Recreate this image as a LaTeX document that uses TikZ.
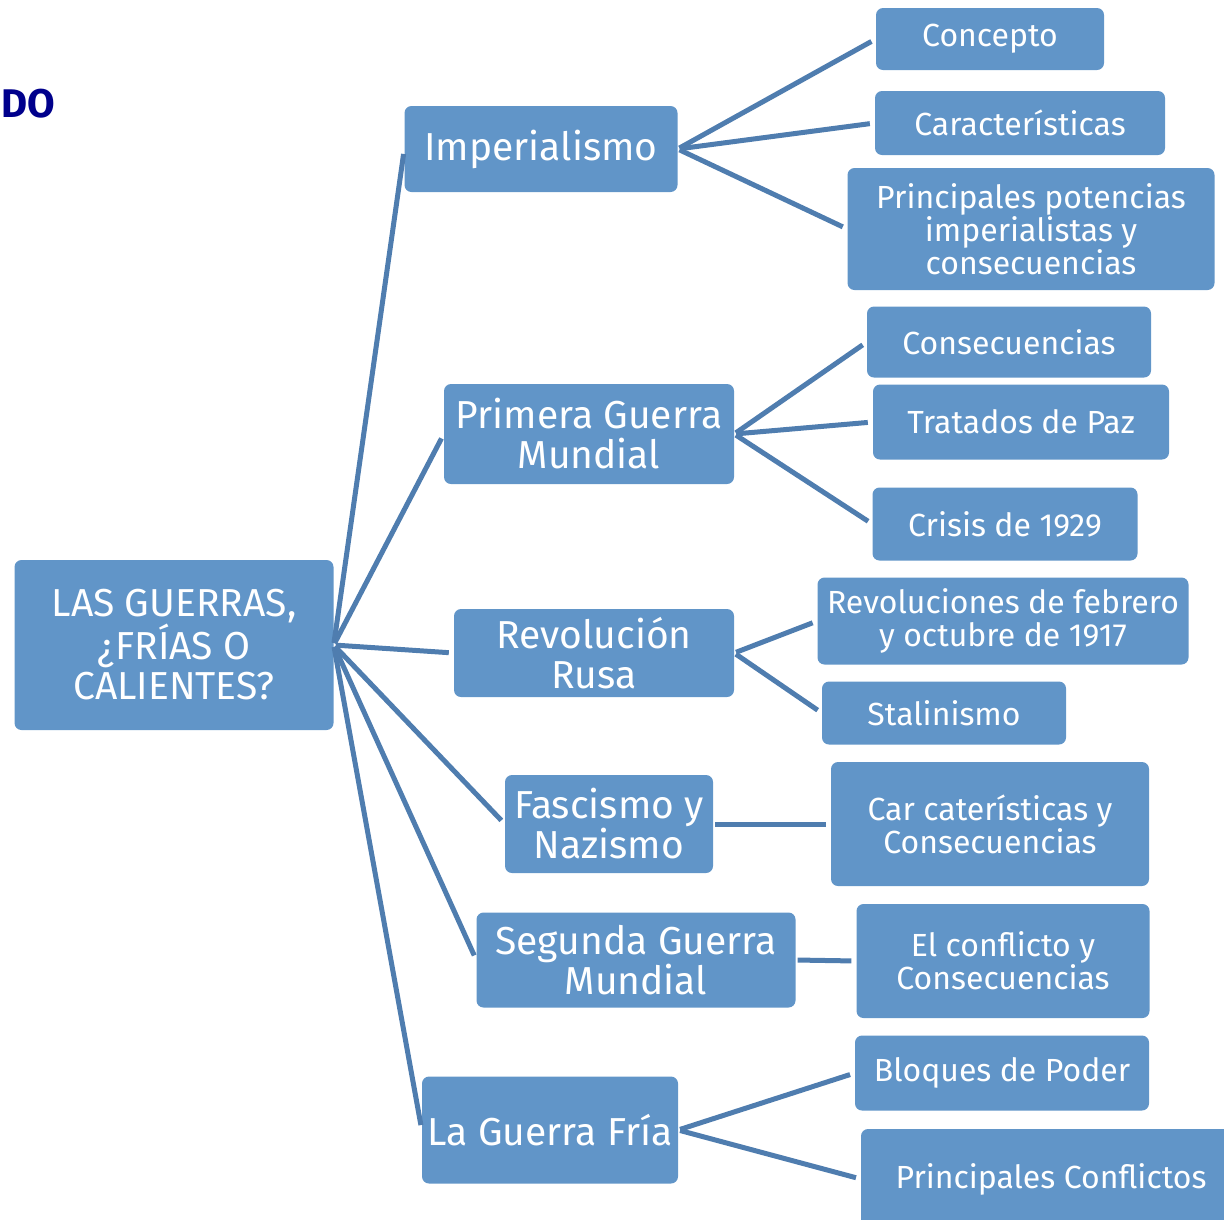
\documentclass[tikz,border=0pt]{standalone}
\usepackage{fontspec}
\setmainfont{Fira Sans}
\usetikzlibrary{positioning}
\definecolor{boxblue}{RGB}{97,149,200}
\definecolor{linkblue}{RGB}{79,125,175}
\definecolor{titleblue}{RGB}{0,0,140}

\begin{document}
\begin{tikzpicture}[x = 1pt, y = -1pt,
  box/.style = {fill=boxblue, rounded corners=7pt, text=white, align=center, inner sep=0pt},
  big/.style = {box, font=\fontsize{39}{40}\selectfont},
  small/.style = {box, font=\fontsize{32}{33}\selectfont},
  link/.style = {draw=linkblue, line width=5pt, shorten >=5pt, shorten <=2pt}]
\useasboundingbox (0, 0) rectangle (1224, 1219);

\node[anchor=west, inner sep=0pt, text=titleblue, font=\fontsize{40}{44}\selectfont\bfseries] (title) at (1, 104) {DO};

\node[big, minimum width=319, minimum height=170] (root) at (174, 645) {LAS GUERRAS,\\¿FRÍAS O\\CALIENTES?};

\node[big, minimum width=273, minimum height=86] (imp) at (541, 149) {Imperialismo};
\node[big, minimum width=290, minimum height=100] (pgm) at (589, 434) {Primera Guerra\\Mundial};
\node[big, minimum width=280, minimum height=88] (rev) at (594, 653) {Revolución\\Rusa};
\node[big, minimum width=208, minimum height=98] (fas) at (609, 824) {Fascismo y\\Nazismo};
\node[big, minimum width=319, minimum height=95] (sgm) at (636, 960) {Segunda Guerra\\Mundial};
\node[big, minimum width=256, minimum height=107] (gf) at (550, 1130) {La Guerra Fría};

\node[small, minimum width=228, minimum height=62] (con) at (990, 39) {Concepto};
\node[small, minimum width=290, minimum height=64] (car) at (1020, 123) {Características};
\node[small, minimum width=367, minimum height=122] (pot) at (1031, 229) {Principales potencias\\imperialistas y\\consecuencias};
\node[small, minimum width=284, minimum height=71] (csc) at (1009, 342) {Consecuencias};
\node[small, minimum width=296, minimum height=75] (tdp) at (1021, 422) {Tratados de Paz};
\node[small, minimum width=265, minimum height=73] (cri) at (1005, 524) {Crisis de 1929};
\node[small, minimum width=371, minimum height=87] (rfo) at (1003, 621) {Revoluciones de febrero\\y octubre de 1917};
\node[small, minimum width=244, minimum height=63] (sta) at (944, 713) {Stalinismo};
\node[small, minimum width=318, minimum height=124] (cyc) at (990, 824) {Car caterísticas y\\Consecuencias};
\node[small, minimum width=293, minimum height=114] (ecc) at (1003, 961) {El conflicto y\\Consecuencias};
\node[small, minimum width=294, minimum height=75] (bdp) at (1002, 1073) {Bloques de Poder};
\node[small, minimum width=380, minimum height=100] (pco) at (1051, 1179) {Principales Conflictos};

\draw[link] (root.east) -- (imp.west);
\draw[link] (root.east) -- (pgm.west);
\draw[link] (root.east) -- (rev.west);
\draw[link] (root.east) -- (fas.west);
\draw[link] (root.east) -- (sgm.west);
\draw[link] (root.east) -- (gf.west);

\draw[link] (imp.east) -- (con.west);
\draw[link] (imp.east) -- (car.west);
\draw[link] (imp.east) -- (pot.west);
\draw[link] (pgm.east) -- (csc.west);
\draw[link] (pgm.east) -- (tdp.west);
\draw[link] (pgm.east) -- (cri.west);
\draw[link] (rev.east) -- (rfo.west);
\draw[link] (rev.east) -- (sta.west);
\draw[link] (fas.east) -- (cyc.west);
\draw[link] (sgm.east) -- (ecc.west);
\draw[link] (gf.east) -- (bdp.west);
\draw[link] (gf.east) -- (pco.west);
\end{tikzpicture}
\end{document}
